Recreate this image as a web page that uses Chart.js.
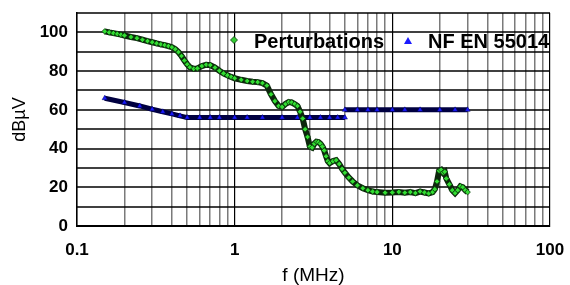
<!DOCTYPE html>
<html>
<head>
<meta charset="utf-8">
<script src="https://cdn.jsdelivr.net/npm/chart.js@4/dist/chart.umd.min.js"></script>
<style>
  html, body { margin: 0; padding: 0; background: #fff; }
  #chart { display: block; }
</style>
</head>
<body>
<canvas id="chart" width="570" height="285"></canvas>
<script>
// measured spectrum (MHz / dBµV)
const perturbFreq = [0.15, 0.16, 0.17, 0.18, 0.19, 0.2, 0.22, 0.24, 0.26, 0.28, 0.3, 0.32, 0.34, 0.36, 0.38, 0.4,
    0.42, 0.44, 0.46, 0.48, 0.5, 0.52, 0.55, 0.58, 0.62, 0.66, 0.7, 0.75, 0.8, 0.85, 0.9, 0.95, 1.0, 1.1, 1.2, 1.3,
    1.4, 1.5, 1.6, 1.7, 1.8, 1.9, 2.0, 2.1, 2.2, 2.3, 2.4, 2.5, 2.6, 2.7, 2.8, 2.9, 3.0, 3.1, 3.2, 3.3, 3.4,
    3.5, 3.6, 3.7, 3.8, 3.9, 4.0, 4.2, 4.4, 4.6, 4.8, 5.0, 5.3, 5.6, 6.0, 6.5, 7, 7.5, 8, 9, 10, 11, 12, 13, 14, 15,
    16, 17, 18, 18.6, 19.2, 19.8, 20.4, 21, 21.5, 22, 23, 24, 25, 26, 27, 28, 29, 30];
const perturbLevel = [100.5, 100, 99.6, 99.2, 98.8, 98.4, 97.6, 97, 96.2, 95.5, 94.9, 94.3, 93.8, 93.4, 92.9, 92.3,
    91.3, 89.8, 87.8, 85.5, 83.5, 82, 81.2, 81.4, 82.6, 83.3, 83.1, 81.8, 80.2, 78.8, 77.8, 77, 76.3, 75.5, 74.9, 74.5,
    74.3, 73.8, 72.5, 68, 64.5, 62, 61.5, 63, 64, 63.8, 63, 62, 59, 55.5, 50, 46, 41, 40.5, 42.5, 43.5, 43.3,
    42.5, 41, 39, 36, 33.5, 32.5, 33.5, 34, 32, 29.5, 27.5, 25, 23, 21, 19.5, 18.5, 17.8, 17.5, 17.2, 17.3, 17.6, 17.2, 17.5, 17, 17.8,
    17.3, 16.8, 17.5, 19, 23, 28.5, 29, 27.5, 28, 24.5, 21.5, 18.5, 17, 18.5, 20.5, 20, 18.5, 17.5];

// NF EN 55014 limit (null = break at 5 MHz)
const limitFreq = [0.15, 0.2, 0.25, 0.3, 0.35, 0.4, 0.45, 0.5, 0.6, 0.7, 0.8, 1, 1.2, 1.5, 2, 2.5, 3, 3.5, 4, 4.5, 5,
    5, 5, 6, 7, 8, 10, 12, 15, 20, 25, 30];
const limitLevel = [66, 63.8, 62, 60.3, 59, 57.9, 56.9, 56, 56, 56, 56, 56, 56, 56, 56, 56, 56, 56, 56, 56, 56,
    null, 60, 60, 60, 60, 60, 60, 60, 60, 60, 60];

const seriesNames = ['Perturbations', 'NF EN 55014'];
const xTickValues = [0.1, 1, 10, 100];
const xTickLabels = ['0.1', '1', '10', '100'];
const yMin = 0, yMax = 110, yStep = 10;

const FONT = 'Arial, "Liberation Sans", sans-serif';

function toPoints(xs, ys) {
    return xs.map((x, i) => ({ x: x, y: ys[i] }));
}

function isDecade(v) {
    return xTickValues.some(d => Math.abs(d - v) < d * 1e-6);
}

// horizontal grid lines, drawn from the y scale
const hGrid = {
    id: 'hGrid',
    beforeDatasetsDraw(chart) {
        const ctx = chart.ctx, y = chart.scales.y, a = chart.chartArea;
        ctx.save();
        ctx.strokeStyle = '#000';
        ctx.lineWidth = 1.6;
        for (let v = yMin + yStep; v <= yMax; v += yStep) {
            const py = Math.round(y.getPixelForValue(v));
            ctx.beginPath();
            ctx.moveTo(a.left, py);
            ctx.lineTo(a.right, py);
            ctx.stroke();
        }
        ctx.restore();
    }
};

// draws the in-plot legend (text + marker) like the original
const innerLegend = {
    id: 'innerLegend',
    afterDatasetsDraw(chart) {
        const ctx = chart.ctx;
        ctx.save();
        ctx.font = 'bold 20px ' + FONT;
        ctx.textBaseline = 'middle';

        // diamond
        ctx.beginPath();
        ctx.moveTo(234, 36.5); ctx.lineTo(237.5, 40); ctx.lineTo(234, 43.5); ctx.lineTo(230.5, 40);
        ctx.closePath();
        ctx.fillStyle = '#33cc33';
        ctx.fill();
        ctx.strokeStyle = '#0a3a0a';
        ctx.lineWidth = 0.8;
        ctx.stroke();
        ctx.fillStyle = '#000';
        ctx.fillText(seriesNames[0], 254, 42);

        // triangle
        ctx.beginPath();
        ctx.moveTo(408, 37); ctx.lineTo(412, 44); ctx.lineTo(404, 44);
        ctx.closePath();
        ctx.fillStyle = '#1a1aff';
        ctx.fill();
        ctx.fillStyle = '#000';
        ctx.fillText(seriesNames[1], 428, 42);
        ctx.restore();
    }
};

new Chart(document.getElementById('chart'), {
    type: 'scatter',
    data: {
        datasets: [{
            label: seriesNames[0],
            data: toPoints(perturbFreq, perturbLevel),
            showLine: true,
            borderColor: '#0d260d',
            borderWidth: 6,
            pointStyle: 'rectRot',
            pointRadius: 2.8,
            pointBackgroundColor: '#33dd33',
            pointBorderColor: '#0a3a0a',
            pointBorderWidth: 0.8
        }, {
            label: seriesNames[1],
            data: toPoints(limitFreq, limitLevel),
            showLine: true,
            spanGaps: false,
            borderColor: '#000040',
            borderWidth: 5,
            pointStyle: 'triangle',
            pointRadius: 3,
            pointBackgroundColor: '#1a1aff',
            pointBorderColor: '#000060',
            pointBorderWidth: 0.5
        }]
    },
    options: {
        responsive: false,
        devicePixelRatio: 1,
        animation: false,
        layout: { padding: { left: 0, right: 20, top: 13, bottom: 0 } },
        plugins: {
            legend: { display: false },
            tooltip: { enabled: false }
        },
        scales: {
            x: {
                type: 'logarithmic',
                min: 0.1,
                max: 100,
                afterBuildTicks(scale) {
                    const ticks = [];
                    for (const d of xTickValues) {
                        for (let k = 1; k <= 9; k++) {
                            const v = d * k;
                            if (v <= 100 + 1e-9) ticks.push({ value: v });
                        }
                    }
                    scale.ticks = ticks;
                },
                afterFit(scale) {
                    scale.height = 59;
                    scale.paddingLeft = 0;
                    scale.paddingRight = 0;
                },
                ticks: {
                    autoSkip: false,
                    maxRotation: 0,
                    padding: 14,
                    color: '#000',
                    font: { family: FONT, size: 17, weight: 'bold' },
                    callback(v) {
                        const i = xTickValues.findIndex(d => Math.abs(d - v) < d * 1e-6);
                        return i >= 0 ? xTickLabels[i] : '';
                    }
                },
                grid: {
                    drawTicks: false,
                    color: c => (c.tick && isDecade(c.tick.value)) ? '#000' : '#7a7a7a',
                    lineWidth: c => (c.tick && isDecade(c.tick.value)) ? 1.2 : 1.5
                },
                border: { display: true, color: '#000', width: 2 },
                title: {
                    display: true,
                    text: 'f (MHz)',
                    color: '#000',
                    padding: 0,
                    font: { family: FONT, size: 19, lineHeight: 1 }
                }
            },
            y: {
                min: yMin,
                max: yMax,
                afterFit(scale) {
                    scale.width = 77;
                    scale.paddingTop = 0;
                    scale.paddingBottom = 0;
                },
                ticks: {
                    stepSize: yStep,
                    autoSkip: false,
                    padding: 9,
                    color: '#000',
                    font: { family: FONT, size: 17, weight: 'bold' },
                    callback: v => (v % 20 === 0 ? String(v) : '')
                },
                grid: { display: false, drawTicks: false },
                border: { display: true, color: '#000', width: 1.5 },
                title: {
                    display: true,
                    text: 'dBµV',
                    color: '#000',
                    padding: { top: 11, bottom: 0 },
                    font: { family: FONT, size: 18, lineHeight: 1 }
                }
            }
        }
    },
    plugins: [hGrid, innerLegend]
});
</script>
</body>
</html>
